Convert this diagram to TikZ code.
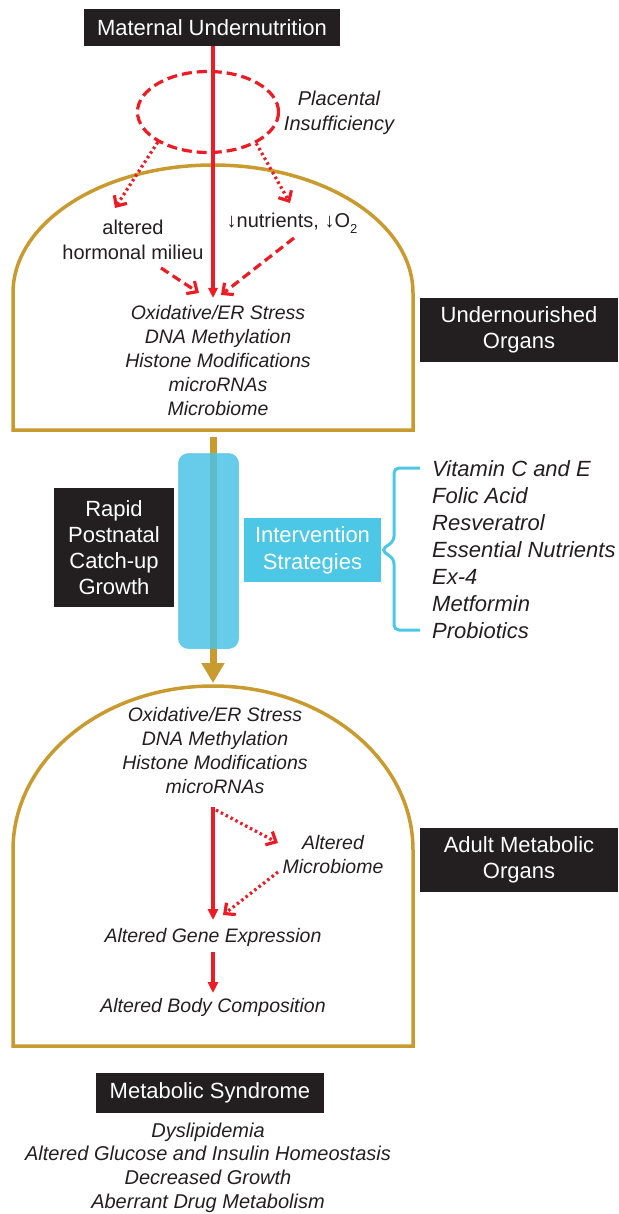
\documentclass[tikz,border=0pt]{standalone}
\usepackage{fontspec}
\setmainfont{Liberation Sans}
\usetikzlibrary{arrows.meta,shapes.geometric,calc}
\definecolor{myred}{HTML}{ED1C24}
\definecolor{mygold}{HTML}{C99A2E}
\definecolor{boxblack}{HTML}{231F20}
\definecolor{barblue}{HTML}{4CC2E6}
\definecolor{barline}{HTML}{55C3E6}
\definecolor{intblue}{HTML}{4CC7E6}
\tikzset{
  blackbox/.style={fill=boxblack, text=white, font=\fontsize{22}{26}\selectfont, align=center, inner sep=0pt},
  itx/.style={text=boxblack, font=\fontsize{19.5}{24}\selectfont\itshape, align=center, inner sep=0pt},
  rgx/.style={text=boxblack, font=\fontsize{20}{25}\selectfont, align=center, inner sep=0pt},
  redsolid/.style={draw=myred, line width=3.2pt, -{Triangle[length=11pt,width=10pt]}},
  reddash/.style={draw=myred, line width=3.2pt, dash pattern=on 9pt off 5pt, -{Straight Barb[length=8pt,width=15pt]}},
  reddot/.style={draw=myred, line width=3.2pt, dash pattern=on 2.5pt off 3pt, -{Straight Barb[length=8pt,width=15pt]}},
  arch/.style={draw=mygold, line width=3.5pt},
}
\begin{document}
\begin{tikzpicture}[x=1pt,y=-1pt]
\useasboundingbox (0,0) rectangle (618,1214);

% arches
\draw[arch] (13,430) -- (13,293) arc[start angle=180, end angle=360, x radius=200, y radius=128] -- (413,430) -- cycle;
\draw[arch] (13,1046) -- (13,850) arc[start angle=180, end angle=360, x radius=200, y radius=164] -- (413,1046) -- cycle;

% top
\node[blackbox, minimum width=256pt, minimum height=37pt] (mat) at (212,27.5) {Maternal Undernutrition};
\node[draw=myred, line width=3.2pt, dash pattern=on 10pt off 5pt, ellipse, minimum width=141pt, minimum height=81pt, inner sep=0pt] (plac) at (208,112) {};
\node[itx, font=\fontsize{20}{25}\selectfont\itshape] (platext) at (339,112.5) {Placental\\Insufficiency};

\coordinate (hormtip) at (115,208);
\coordinate (nuttip) at (290,203);
\draw[reddot] (plac.211) -- (hormtip);
\draw[reddot] (plac.-33) -- (nuttip);

\node[rgx] (horm) at (133,239.5) {altered\\hormonal milieu};
\node[rgx] (nut) at (292,223) {↓nutrients, ↓O\raisebox{-0.3em}{\fontsize{13}{13}\selectfont 2}};

\coordinate (hs) at (161,268);
\coordinate (ht) at (199,293);
\coordinate (ns) at (294,238);
\coordinate (nt) at (221,295);
\coordinate (mt) at (213,298);
\draw[reddash] (hs) -- (ht);
\draw[reddash] (ns) -- (nt);
\draw[redsolid, -{Triangle[length=10pt,width=9pt]}] (mat.south -| mt) -- (mt);

\node[itx] (up) at (218,360.5) {Oxidative/ER Stress\\DNA Methylation\\Histone Modifications\\microRNAs\\Microbiome};
\node[blackbox, minimum width=198pt, minimum height=64pt] (uo) at (519,330) {Undernourished\\Organs};

% middle
\coordinate (gtop) at (213,437);
\coordinate (gbot) at (213,683);
\draw[draw=mygold, line width=7pt, -{Triangle[length=20pt,width=22pt]}] (gtop) -- (gbot);
\node[fill=barblue, fill opacity=0.85, draw=barline, draw opacity=0.6, line width=1pt, rounded corners=10pt, minimum width=60pt, minimum height=195pt, inner sep=0pt] (bar) at (208.5,551) {};
\node[blackbox, minimum width=120pt, minimum height=119pt] (rap) at (114,547.5) {Rapid\\Postnatal\\Catch-up\\Growth};
\node[blackbox, fill=intblue, minimum width=137pt, minimum height=64pt, font=\fontsize{22}{27}\selectfont] (int) at (312.5,550) {Intervention\\Strategies};
\node[text=boxblack, font=\fontsize{22}{27}\selectfont\itshape, align=left, anchor=west, inner sep=0pt] (lst) at (432,550) {Vitamin C and E\\Folic Acid\\Resveratrol\\Essential Nutrients\\Ex-4\\Metformin\\Probiotics};
\draw[draw=intblue, line width=3pt, rounded corners=5pt] (420,468) -- (394,468) -- (394,541) -- (int.east) -- (394,559) -- (394,630) -- (420,630);

% lower
\node[itx] (lo) at (215,751) {Oxidative/ER Stress\\DNA Methylation\\Histone Modifications\\microRNAs};
\node[itx] (mic) at (333,855) {Altered\\Microbiome};
\node[itx] (gene) at (213,937) {Altered Gene Expression};
\node[itx] (body) at (213,1007) {Altered Body Composition};
\node[blackbox, minimum width=198pt, minimum height=64pt] (ao) at (519,860) {Adult Metabolic\\Organs};

\coordinate (l1) at (213,807);
\coordinate (l1t) at (213,920);
\coordinate (d1s) at (216,810);
\coordinate (d1t) at (278,843);
\coordinate (d2s) at (278,872);
\coordinate (d2t) at (223,915);
\coordinate (l2) at (213,952);
\coordinate (l2t) at (213,993);
\draw[redsolid] (l1) -- (l1t);
\draw[reddot] (d1s) -- (d1t);
\draw[reddot] (d2s) -- (d2t);
\draw[redsolid] (l2) -- (l2t);

% bottom
\node[blackbox, minimum width=228pt, minimum height=40pt] (ms) at (210,1093) {Metabolic Syndrome};
\node[itx, font=\fontsize{20}{23.7}\selectfont\itshape] (msl) at (208,1167.5) {Dyslipidemia\\Altered Glucose and Insulin Homeostasis\\Decreased Growth\\Aberrant Drug Metabolism};
\end{tikzpicture}
\end{document}
